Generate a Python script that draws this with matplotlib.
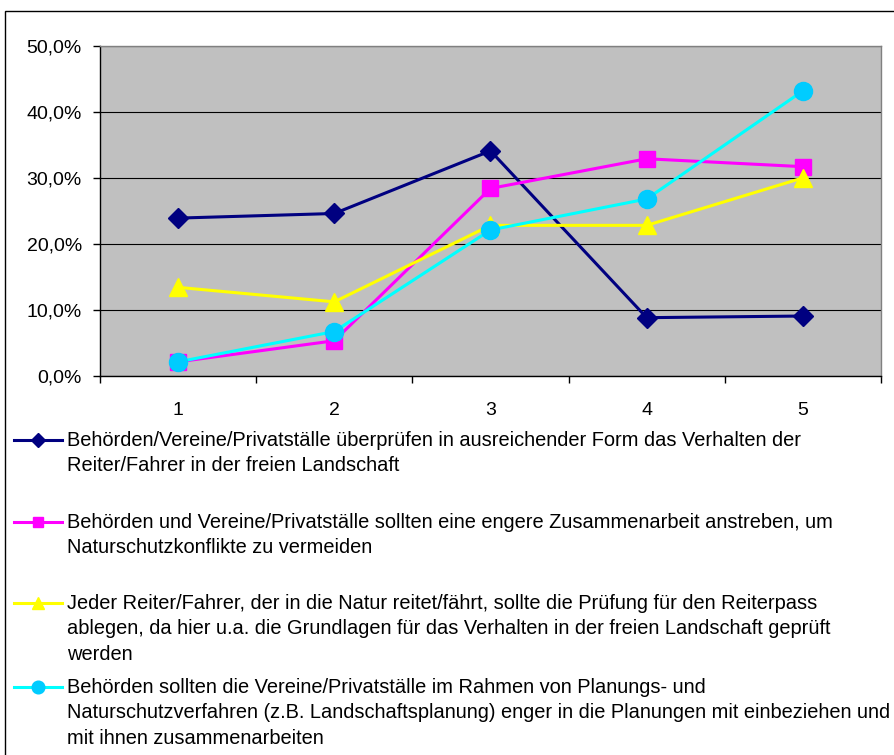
import matplotlib.pyplot as plt
from matplotlib.lines import Line2D
from matplotlib.patches import Rectangle
from matplotlib.ticker import FuncFormatter, MultipleLocator
import numpy as np

categories = ['1', '2', '3', '4', '5']

s_kontrolle = [23.9, 24.6, 34.1, 8.8, 9.05]
s_zusammenarbeit = [2.1, 5.3, 28.4, 32.9, 31.7]
s_reiterpass = [13.4, 11.2, 22.8, 22.8, 30.0]
s_planung = [2.1, 6.7, 22.1, 26.8, 43.2]

labels = [
    'Behörden/Vereine/Privatställe überprüfen in ausreichender Form das Verhalten der\n'
    'Reiter/Fahrer in der freien Landschaft',
    'Behörden und Vereine/Privatställe sollten eine engere Zusammenarbeit anstreben, um\n'
    'Naturschutzkonflikte zu vermeiden',
    'Jeder Reiter/Fahrer, der in die Natur reitet/fährt, sollte die Prüfung für den Reiterpass\n'
    'ablegen, da hier u.a. die Grundlagen für das Verhalten in der freien Landschaft geprüft\n'
    'werden',
    'Behörden sollten die Vereine/Privatställe im Rahmen von Planungs- und\n'
    'Naturschutzverfahren (z.B. Landschaftsplanung) enger in die Planungen mit einbeziehen und\n'
    'mit ihnen zusammenarbeiten',
]

styles = [
    dict(color='#000080', marker='D', markersize=10.5, mfc='#000080', mec='#000080'),
    dict(color='#FF00FF', marker='s', markersize=11, mfc='#FF00FF', mec='#FF00FF'),
    dict(color='#FFFF00', marker='^', markersize=13, mfc='#FFFF00', mec='#FFFF00'),
    dict(color='#00FFFF', marker='o', markersize=13, mfc='#00CCFF', mec='#00CCFF'),
]

plt.rcParams['font.family'] = ['Liberation Sans', 'DejaVu Sans']

W, H = 895, 755
fig = plt.figure(figsize=(W / 100, H / 100), dpi=100)

# chart area border
fig.add_artist(Rectangle((5 / W, -0.05), 1.1, 1 - 11 / H + 0.05, transform=fig.transFigure,
                         fill=False, edgecolor='black', linewidth=1))

ax = fig.add_axes([100 / W, 1 - 375.7 / H, 781 / W, (375.7 - 46) / H])
ax.set_facecolor('#C0C0C0')

x = np.arange(len(categories))
series = [s_kontrolle, s_zusammenarbeit, s_reiterpass, s_planung]
for vals, st in zip(series, styles):
    ax.plot(x, vals, linewidth=2.2, zorder=3, **st)

ax.set_xlim(-0.5, len(categories) - 0.5)
ax.set_ylim(0, 50)
ax.yaxis.set_major_locator(MultipleLocator(10))
ax.yaxis.set_major_formatter(FuncFormatter(lambda v, p: f'{v:.1f}%'.replace('.', ',')))
ax.grid(axis='y', color='black', linewidth=0.8)
ax.set_axisbelow(True)

ax.set_xticks(x)
ax.set_xticklabels(categories)
ax.set_xticks(np.arange(-0.5, len(categories)), minor=True)
ax.tick_params(axis='x', which='major', length=0, pad=19, labelsize=14)
ax.tick_params(axis='x', which='minor', length=5, direction='out', width=1)
ax.tick_params(axis='y', length=5, direction='out', width=1, labelsize=14, pad=8)

ax.spines['left'].set_color('black')
ax.spines['bottom'].set_color('black')
ax.spines['top'].set_color('#808080')
ax.spines['right'].set_color('#808080')
for sp in ax.spines.values():
    sp.set_linewidth(1)

# legend below the plot, handle aligned with first text line
entry_tops = [440, 522, 603, 687]
for lab, st, yc in zip(labels, styles, entry_tops):
    yf = 1 - yc / H
    ms = st['markersize'] * 0.7
    h = Line2D([14 / W, 62 / W], [yf, yf], transform=fig.transFigure, linewidth=2.2,
               color=st['color'])
    fig.add_artist(h)
    m = Line2D([38 / W], [yf], transform=fig.transFigure, marker=st['marker'], markersize=ms,
               mfc=st['mfc'], mec=st['mec'], linestyle='none')
    fig.add_artist(m)
    fig.text(67 / W, 1 - (yc - 9) / H, lab, fontsize=14.4, va='top', ha='left',
             linespacing=1.42)

fig.savefig('out.png', dpi=100)
